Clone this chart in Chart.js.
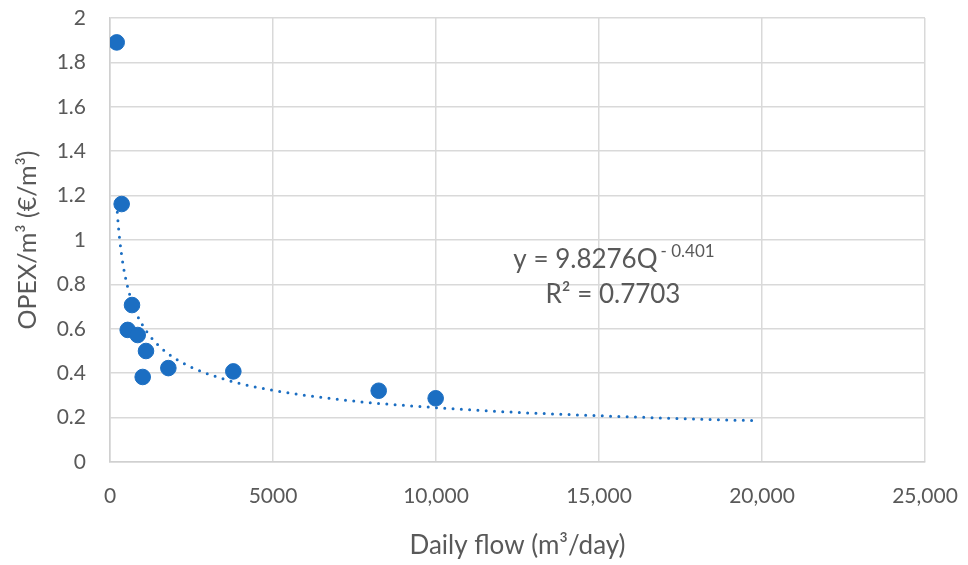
<!DOCTYPE html>
<html>
<head>
<meta charset="utf-8">
<script src="https://cdn.jsdelivr.net/npm/chart.js@4"></script>
<style>
html,body{margin:0;padding:0;background:#fff;}
#wrap{width:968px;height:565px;}
</style>
</head>
<body>
<div id="wrap"><canvas id="c" width="968" height="565"></canvas></div>
<script>
const flowValues = [205, 358, 675, 543, 850, 1104, 1003, 1790, 3783, 8242, 9990];
const opexValues = [1.89, 1.162, 0.707, 0.595, 0.572, 0.50, 0.383, 0.423, 0.408, 0.321, 0.287];
// Trendline points
const trendFlow = [205, 250, 300, 400, 500, 600, 800, 1000, 1250, 1500, 2000, 2500, 3000, 4000, 5000, 6000, 7000, 8000, 10000, 12000, 14000, 16000, 18000, 19850];
const trendOpex = [1.162, 1.074, 0.999, 0.889, 0.814, 0.756, 0.673, 0.616, 0.563, 0.523, 0.466, 0.427, 0.397, 0.353, 0.323, 0.300, 0.282, 0.267, 0.245, 0.227, 0.214, 0.203, 0.193, 0.186];
const xTickLabels = ['0', '5000', '10,000', '15,000', '20,000', '25,000'];
const yTickLabels = ['0', '0.2', '0.4', '0.6', '0.8', '1', '1.2', '1.4', '1.6', '1.8', '2'];
const eqMain = 'y = 9.8276Q';
const eqExp = '- 0.401';
const r2Text = 'R² = 0.7703';

const FONT = "Lato, 'Open Sans', sans-serif";
const GRAY = '#595959';
const BLUE = '#1b6ec2';

const eqPlugin = {
  id: 'eq',
  afterDatasetsDraw(chart) {
    const ctx = chart.ctx;
    ctx.save();
    ctx.fillStyle = GRAY;
    ctx.textBaseline = 'alphabetic';
    ctx.font = '26px ' + FONT;
    const w1 = ctx.measureText(eqMain).width;
    ctx.font = '17px ' + FONT;
    const w2 = ctx.measureText(eqExp).width;
    const cx = 614;
    const baseY = 268;
    let x0 = cx - (w1 + w2 + 3) / 2;
    ctx.font = '26px ' + FONT;
    ctx.textAlign = 'left';
    ctx.fillText(eqMain, x0, baseY);
    ctx.font = '17px ' + FONT;
    ctx.fillText(eqExp, x0 + w1 + 3, baseY - 11);
    ctx.font = '26px ' + FONT;
    ctx.textAlign = 'center';
    ctx.fillText(r2Text, 613, 303);
    ctx.restore();
  }
};

new Chart(document.getElementById('c'), {
  type: 'scatter',
  data: {
    datasets: [
      {
        type: 'line',
        data: trendFlow.map((x, i) => ({x: x, y: trendOpex[i]})),
        borderColor: BLUE,
        borderWidth: 3,
        borderDash: [0, 8.3],
        borderCapStyle: 'round',
        pointRadius: 0,
        fill: false,
        cubicInterpolationMode: 'monotone',
        order: 2
      },
      {
        data: flowValues.map((x, i) => ({x: x, y: opexValues[i]})),
        backgroundColor: BLUE,
        borderColor: BLUE,
        pointRadius: 7.8,
        pointHoverRadius: 7.8,
        order: 1
      }
    ]
  },
  options: {
    responsive: false,
    animation: false,
    events: [],
    layout: {padding: {left: 0, right: 43, top: 18, bottom: 0}},
    plugins: {legend: {display: false}, tooltip: {enabled: false}},
    scales: {
      x: {
        type: 'linear', min: 0, max: 25000,
        afterBuildTicks(s) { s.ticks = xTickLabels.map((t, i) => ({value: i * 5000})); },
        afterFit(s) { s.height = 103; s.paddingLeft = 0; s.paddingRight = 0; },
        grid: {color: '#d9d9d9', lineWidth: 1.5, drawTicks: false},
        border: {color: '#d0d0d0', width: 1.5},
        ticks: {
          color: GRAY, font: {family: FONT, size: 21}, padding: 22, maxRotation: 0,
          callback: (v, i) => xTickLabels[i]
        },
        title: {display: true, text: 'Daily flow (m³/day)', color: GRAY, font: {family: FONT, size: 26}, padding: {top: 16}}
      },
      y: {
        type: 'linear', min: 0, max: 2,
        afterBuildTicks(s) { s.ticks = yTickLabels.map((t, i) => ({value: i * 0.2})); },
        afterFit(s) { s.width = 110; s.paddingTop = 0; s.paddingBottom = 0; },
        grid: {color: '#d9d9d9', lineWidth: 1.5, drawTicks: false},
        border: {color: '#d0d0d0', width: 1.5},
        ticks: {
          color: GRAY, font: {family: FONT, size: 21}, padding: 24,
          callback: (v, i) => yTickLabels[i]
        },
        title: {display: true, text: 'OPEX/m³ (€/m³)', color: GRAY, font: {family: FONT, size: 25}, padding: {top: 13, bottom: 0}}
      }
    }
  },
  plugins: [eqPlugin]
});
</script>
</body>
</html>
